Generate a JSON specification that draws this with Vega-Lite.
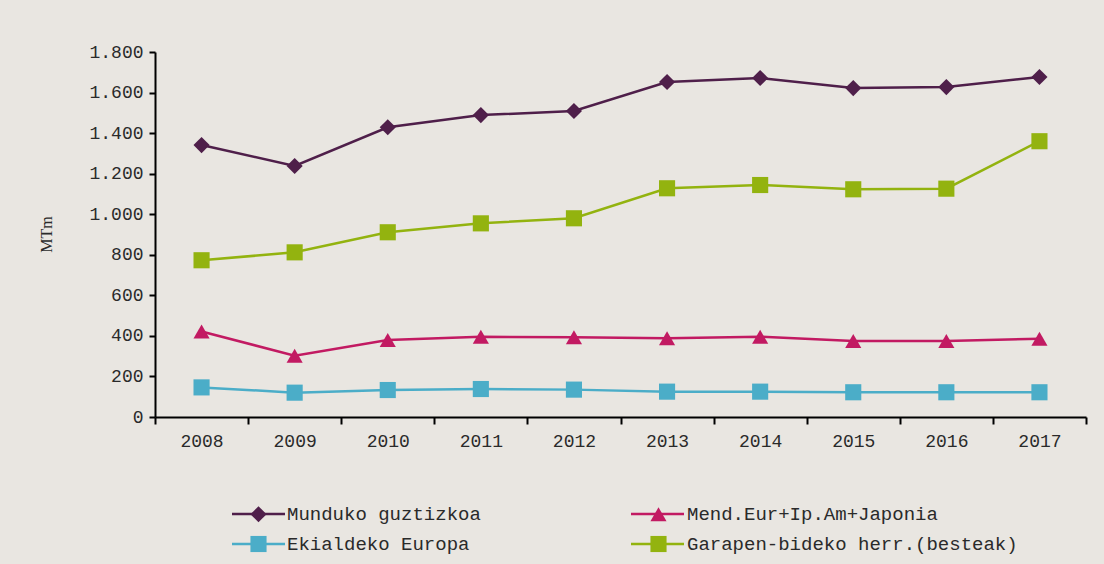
{
  "$schema": "https://vega.github.io/schema/vega-lite/v6.json",
  "width": 931,
  "height": 365,
  "autosize": {"type": "none"},
  "padding": {"left": 155, "top": 52, "right": 18, "bottom": 147},
  "background": "#E9E6E1",
  "config": {
    "view": {"stroke": null},
    "font": "Liberation Mono",
    "locale": {"number": {"decimal": ",", "thousands": ".", "grouping": [3], "currency": ["", "€"]}}
  },
  "data": {
    "values": [
      {"year": "2008", "series": "Munduko guztizkoa", "value": 1341},
      {"year": "2009", "series": "Munduko guztizkoa", "value": 1238},
      {"year": "2010", "series": "Munduko guztizkoa", "value": 1429},
      {"year": "2011", "series": "Munduko guztizkoa", "value": 1489},
      {"year": "2012", "series": "Munduko guztizkoa", "value": 1509},
      {"year": "2013", "series": "Munduko guztizkoa", "value": 1652},
      {"year": "2014", "series": "Munduko guztizkoa", "value": 1672},
      {"year": "2015", "series": "Munduko guztizkoa", "value": 1622},
      {"year": "2016", "series": "Munduko guztizkoa", "value": 1627},
      {"year": "2017", "series": "Munduko guztizkoa", "value": 1677},
      {"year": "2008", "series": "Mend.Eur+Ip.Am+Japonia", "value": 422},
      {"year": "2009", "series": "Mend.Eur+Ip.Am+Japonia", "value": 302},
      {"year": "2010", "series": "Mend.Eur+Ip.Am+Japonia", "value": 380},
      {"year": "2011", "series": "Mend.Eur+Ip.Am+Japonia", "value": 396},
      {"year": "2012", "series": "Mend.Eur+Ip.Am+Japonia", "value": 393},
      {"year": "2013", "series": "Mend.Eur+Ip.Am+Japonia", "value": 388},
      {"year": "2014", "series": "Mend.Eur+Ip.Am+Japonia", "value": 396},
      {"year": "2015", "series": "Mend.Eur+Ip.Am+Japonia", "value": 375},
      {"year": "2016", "series": "Mend.Eur+Ip.Am+Japonia", "value": 375},
      {"year": "2017", "series": "Mend.Eur+Ip.Am+Japonia", "value": 386},
      {"year": "2008", "series": "Ekialdeko Europa", "value": 146},
      {"year": "2009", "series": "Ekialdeko Europa", "value": 120},
      {"year": "2010", "series": "Ekialdeko Europa", "value": 133},
      {"year": "2011", "series": "Ekialdeko Europa", "value": 138},
      {"year": "2012", "series": "Ekialdeko Europa", "value": 135},
      {"year": "2013", "series": "Ekialdeko Europa", "value": 125},
      {"year": "2014", "series": "Ekialdeko Europa", "value": 125},
      {"year": "2015", "series": "Ekialdeko Europa", "value": 122},
      {"year": "2016", "series": "Ekialdeko Europa", "value": 122},
      {"year": "2017", "series": "Ekialdeko Europa", "value": 122},
      {"year": "2008", "series": "Garapen-bideko herr.(besteak)", "value": 773},
      {"year": "2009", "series": "Garapen-bideko herr.(besteak)", "value": 812},
      {"year": "2010", "series": "Garapen-bideko herr.(besteak)", "value": 911},
      {"year": "2011", "series": "Garapen-bideko herr.(besteak)", "value": 955},
      {"year": "2012", "series": "Garapen-bideko herr.(besteak)", "value": 980},
      {"year": "2013", "series": "Garapen-bideko herr.(besteak)", "value": 1128},
      {"year": "2014", "series": "Garapen-bideko herr.(besteak)", "value": 1144},
      {"year": "2015", "series": "Garapen-bideko herr.(besteak)", "value": 1123},
      {"year": "2016", "series": "Garapen-bideko herr.(besteak)", "value": 1126},
      {"year": "2017", "series": "Garapen-bideko herr.(besteak)", "value": 1360}
    ]
  },
  "encoding": {
    "x": {
      "field": "year",
      "type": "ordinal",
      "bandPosition": 0.5,
      "scale": {"type": "band", "paddingInner": 0, "paddingOuter": 0},
      "axis": {
        "title": null,
        "tickBand": "extent",
        "labelAngle": 0,
        "domainColor": "#000000",
        "domainWidth": 2,
        "tickColor": "#000000",
        "tickWidth": 2,
        "tickSize": 7,
        "labelFontSize": 18,
        "labelColor": "#2a2a2a",
        "labelPadding": 8
      }
    },
    "y": {
      "field": "value",
      "type": "quantitative",
      "scale": {"domain": [0, 1800]},
      "axis": {
        "title": "MTm",
        "titleFont": "Liberation Serif",
        "titleFontSize": 16,
        "titleFontWeight": "normal",
        "titleColor": "#2a2a2a",
        "titleX": -109,
        "titleY": 182,
        "titleAngle": -90,
        "titleAlign": "center",
        "titleBaseline": "middle",
        "values": [0, 200, 400, 600, 800, 1000, 1200, 1400, 1600, 1800],
        "format": ",.0f",
        "grid": false,
        "domainColor": "#000000",
        "domainWidth": 2,
        "tickColor": "#000000",
        "tickWidth": 2,
        "tickSize": 6,
        "labelFontSize": 18,
        "labelColor": "#2a2a2a",
        "labelPadding": 6
      }
    }
  },
  "resolve": {"legend": {"color": "independent", "shape": "independent"}},
  "layer": [
    {
      "mark": {"type": "line", "strokeWidth": 2.5},
      "encoding": {
        "color": {
          "field": "series",
          "type": "nominal",
          "scale": {
            "domain": ["Munduko guztizkoa", "Mend.Eur+Ip.Am+Japonia", "Ekialdeko Europa", "Garapen-bideko herr.(besteak)"],
            "range": ["#4F1F4A", "#C21A62", "#4BADC8", "#93B30F"]
          },
          "legend": {
            "title": null,
            "orient": "none",
            "legendX": 75.5,
            "legendY": 452,
            "columns": 2,
            "columnPadding": 343,
            "rowPadding": 10,
            "clipHeight": 20,
            "symbolType": "stroke",
            "symbolSize": 2809,
            "symbolStrokeWidth": 2.5,
            "labelExpr": "''",
            "labelFontSize": 12,
            "labelOffset": 0,
            "values": ["Munduko guztizkoa", "Ekialdeko Europa", "Mend.Eur+Ip.Am+Japonia", "Garapen-bideko herr.(besteak)"]
          }
        }
      }
    },
    {
      "mark": {"type": "point", "filled": true, "opacity": 1, "size": 260},
      "encoding": {
        "color": {
          "field": "series",
          "type": "nominal",
          "legend": {
            "title": null,
            "orient": "none",
            "legendX": 94,
            "legendY": 452.5,
            "columns": 2,
            "columnPadding": 168,
            "rowPadding": 10,
            "symbolSize": 260,
            "symbolStrokeWidth": 0,
            "labelFontSize": 19,
            "labelColor": "#2a2a2a",
            "labelOffset": 19,
            "labelLimit": 500,
            "values": ["Munduko guztizkoa", "Ekialdeko Europa", "Mend.Eur+Ip.Am+Japonia", "Garapen-bideko herr.(besteak)"]
          }
        },
        "shape": {
          "field": "series",
          "type": "nominal",
          "scale": {
            "domain": ["Munduko guztizkoa", "Mend.Eur+Ip.Am+Japonia", "Ekialdeko Europa", "Garapen-bideko herr.(besteak)"],
            "range": ["diamond", "triangle-up", "square", "square"]
          },
          "legend": {
            "title": null,
            "orient": "none",
            "legendX": 94,
            "legendY": 452.5,
            "columns": 2,
            "columnPadding": 168,
            "rowPadding": 10,
            "symbolSize": 260,
            "symbolStrokeWidth": 0,
            "labelFontSize": 19,
            "labelColor": "#2a2a2a",
            "labelOffset": 19,
            "labelLimit": 500,
            "values": ["Munduko guztizkoa", "Ekialdeko Europa", "Mend.Eur+Ip.Am+Japonia", "Garapen-bideko herr.(besteak)"]
          }
        }
      }
    }
  ]
}
